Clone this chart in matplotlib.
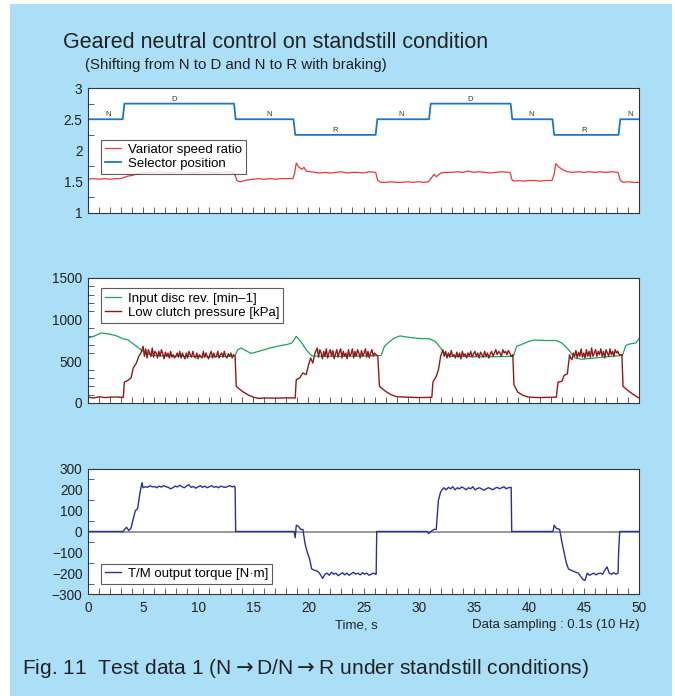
import numpy as np
import matplotlib.pyplot as plt
import matplotlib as mpl
from matplotlib.ticker import MultipleLocator

mpl.rcParams['font.family'] = ['Liberation Sans', 'DejaVu Sans']
mpl.rcParams['font.size'] = 9.5

# ------------------------------------------------------- #
# data (time in s)

# selector position (N = 2.5, D = 2.75, R = 2.25)
sel_t = [0, 3.15, 3.3, 13.25, 13.4, 18.65, 18.8, 26.1, 26.25, 30.95, 31.1, 38.35, 38.5, 42.15, 42.3, 48.15, 48.3, 50]
sel_v = [2.5, 2.5, 2.75, 2.75, 2.5, 2.5, 2.25, 2.25, 2.5, 2.5, 2.75, 2.75, 2.5, 2.5, 2.25, 2.25, 2.5, 2.5]
sel_lbl_t = [1.8, 7.8, 16.4, 22.4, 28.4, 34.7, 40.2, 45.0, 49.2]
sel_lbl = ['N', 'D', 'N', 'R', 'N', 'D', 'N', 'R', 'N']
sel_lbl_y = [2.5, 2.75, 2.5, 2.25, 2.5, 2.75, 2.5, 2.25, 2.5]

# variator speed ratio
var_t = [0, 0.5, 1, 1.5, 2, 2.5, 3, 3.3, 3.6, 4.0, 4.5, 5, 5.5, 6, 6.5, 7, 7.5, 8, 8.5, 9, 9.5, 10, 10.5, 11, 11.5, 12, 12.5, 13, 13.3,
         13.5, 13.8, 14.5, 15, 15.5, 16, 16.5, 17, 17.5, 18, 18.6, 18.75, 18.9, 19.1, 19.4, 19.6, 19.8, 20.2, 20.6, 21, 21.5, 22, 22.5,
         23, 23.5, 24, 24.5, 25, 25.5, 26.1, 26.3, 26.6, 27, 27.5, 28, 28.5, 29, 29.5, 30, 30.5, 30.9, 31.2, 31.4, 31.6, 32.0, 32.5,
         33, 33.5, 34, 34.5, 35, 35.5, 36, 36.5, 37, 37.5, 38.3, 38.5, 38.8, 39, 39.5, 40, 40.5, 41, 41.5, 42.1, 42.3, 42.45, 42.7, 43,
         43.5, 44, 44.5, 45, 45.5, 46, 46.5, 47, 47.5, 48.1, 48.3, 48.6, 49, 49.5, 50]
var_v = [1.54, 1.55, 1.54, 1.55, 1.54, 1.55, 1.55, 1.57, 1.59, 1.60, 1.63, 1.64, 1.65, 1.65, 1.66, 1.65, 1.64, 1.65, 1.66, 1.65, 1.64, 1.65, 1.66, 1.65, 1.64, 1.65, 1.66, 1.65, 1.64,
         1.52, 1.50, 1.53, 1.54, 1.55, 1.54, 1.55, 1.54, 1.55, 1.55, 1.55, 1.64, 1.80, 1.74, 1.70, 1.73, 1.67, 1.66, 1.65, 1.64, 1.65, 1.64, 1.65,
         1.66, 1.64, 1.65, 1.65, 1.64, 1.66, 1.65, 1.52, 1.49, 1.49, 1.50, 1.49, 1.49, 1.50, 1.49, 1.50, 1.49, 1.50, 1.57, 1.62, 1.58, 1.64, 1.65,
         1.65, 1.66, 1.65, 1.67, 1.65, 1.66, 1.65, 1.64, 1.65, 1.66, 1.65, 1.52, 1.51, 1.52, 1.51, 1.52, 1.52, 1.51, 1.52, 1.52, 1.62, 1.79, 1.74, 1.70,
         1.66, 1.65, 1.66, 1.65, 1.66, 1.65, 1.66, 1.65, 1.66, 1.65, 1.52, 1.49, 1.50, 1.49, 1.49]

# input disc rev. [min-1]
rev_t = [0, 0.5, 1.2, 1.8, 2.5, 3.2, 3.6, 4.0, 4.6, 5.2, 5.8, 7, 9, 11, 13.3, 13.6, 13.9, 14.3, 14.8, 15.5,
         16.5, 17.5, 18.0, 18.5, 18.9, 19.3, 19.8, 20.3, 21, 23, 25, 26.6, 26.9, 27.3, 27.8, 28.3, 29, 30, 31, 31.5,
         32.0, 32.5, 33, 35, 37, 38.6, 38.9, 39.3, 40.0, 40.5, 41.5, 42.5, 43.0, 43.6, 44.2, 44.8, 46, 47.5, 48.5, 48.8,
         49.2, 49.7, 50]
rev_v = [780, 800, 840, 830, 810, 770, 760, 720, 660, 600, 570, 565, 560, 555, 560, 640, 660, 630, 595, 620,
         660, 690, 700, 720, 800, 740, 640, 565, 560, 560, 565, 570, 680, 730, 780, 805, 790, 775, 770, 740,
         660, 575, 560, 555, 555, 560, 680, 700, 740, 755, 750, 750, 720, 640, 540, 525, 540, 560, 570, 690,
         710, 720, 770]

# low clutch pressure [kPa] : transitions + noisy plateaus
prs_low1_t = [0, 0.5, 1, 1.5, 2, 2.5, 3.2, 3.3, 3.6, 3.9, 4.1, 4.4, 4.6, 4.8]
prs_low1_v = [70, 60, 75, 65, 70, 72, 68, 250, 270, 300, 420, 480, 560, 600]
prs_plat1 = [680, 560, 650, 540, 640, 600, 560, 660, 550, 620, 600, 540, 620, 560, 640, 590, 530, 610, 560, 600,
             540, 620, 550, 580, 540, 560, 600, 550, 620, 540, 600, 560, 530, 600, 540, 620, 580, 550, 620, 560,
             540, 600, 530, 580, 560, 540, 620, 550, 600, 560, 530, 580, 620, 540, 600, 550, 560, 620, 540, 580,
             600, 550, 620, 560, 540, 590, 560, 600, 540, 580]
prs_low2_t = [13.35, 13.45, 14, 14.5, 15, 15.5, 16, 17, 18, 18.8, 18.9, 19.2, 19.5, 19.8, 20.0, 20.2, 20.4, 20.6]
prs_low2_v = [560, 200, 140, 100, 70, 55, 60, 58, 62, 60, 280, 300, 360, 340, 450, 540, 480, 600]
prs_plat2 = [660, 550, 640, 600, 530, 620, 560, 650, 540, 600, 640, 560, 630, 530, 590, 640, 550, 610, 650, 540,
             620, 560, 600, 530, 640, 560, 590, 650, 540, 620, 560, 640, 600, 540, 630, 560, 600, 650, 550, 620,
             540, 600, 640, 560, 600]
prs_low3_t = [26.3, 26.45, 27, 27.5, 28, 29, 30, 31.2, 31.3, 31.6, 31.8, 32.0, 32.1]
prs_low3_v = [560, 200, 140, 100, 75, 70, 65, 68, 250, 320, 400, 560, 600]
prs_plat3 = [640, 560, 620, 540, 600, 550, 630, 560, 580, 540, 610, 550, 600, 530, 620, 560, 590, 540, 600, 560,
             620, 550, 590, 620, 560, 600, 540, 610, 580, 550, 620, 560, 600, 540, 590, 620, 560, 600, 640, 580,
             620, 600, 560, 640, 600, 620, 580, 630, 600, 560]
prs_low4_t = [38.55, 38.65, 39, 39.5, 40, 41, 42.5, 42.65, 43, 43.2, 43.5, 43.7]
prs_low4_v = [580, 220, 130, 90, 70, 65, 70, 250, 260, 330, 350, 580]
prs_plat4 = [540, 520, 600, 560, 630, 540, 610, 560, 650, 550, 600, 540, 640, 560, 620, 550, 660, 560, 600, 640,
             560, 620, 580, 650, 560, 620, 540, 640, 600, 560, 650, 580, 620, 560, 640, 600, 620, 580]
prs_low5_t = [48.45, 48.55, 49, 49.5, 50]
prs_low5_v = [580, 200, 150, 100, 60]
prs_plat_span = [(5.0, 13.2), (20.8, 26.0), (32.2, 38.4), (43.8, 48.2)]

# T/M output torque [N·m] : transitions + plateaus
trq_a_t = [0, 3.2, 3.3, 3.5, 3.7, 3.9, 4.1, 4.3, 4.5, 4.7, 4.9]
trq_a_v = [0, 0, 10, 20, 5, 15, 60, 100, 110, 180, 235]
trq_plat1 = [210, 215, 212, 220, 214, 216, 210, 218, 213, 220, 215, 212, 205, 210, 218, 214, 222, 215, 210, 218,
             225, 212, 216, 208, 214, 220, 212, 218, 210, 215, 220, 212, 216, 210, 218, 214, 212, 216, 220, 214, 218]
trq_b_t = [13.35, 13.4, 18.7, 18.8, 18.9, 19.1, 19.3, 19.5, 19.7, 19.9, 20.1, 20.3, 20.5, 20.8, 21.0, 21.3]
trq_b_v = [210, 0, 0, -30, 30, 25, 10, 10, -60, -100, -130, -180, -185, -190, -200, -225]
trq_plat2 = [-205, -200, -210, -195, -205, -200, -212, -205, -198, -208, -200, -210, -202, -196, -205, -200, -208,
             -198, -205, -200, -210, -205, -200, -205]
trq_c_t = [26.15, 26.2, 30.8, 30.9, 31.1, 31.4, 31.6, 31.8, 32.0, 32.2]
trq_c_v = [-205, 0, 0, -10, 0, 10, 10, 150, 190, 205]
trq_plat3 = [210, 200, 212, 205, 215, 200, 210, 205, 214, 208, 200, 210, 205, 215, 200, 206, 210, 204, 198, 205,
             210, 206, 200, 208, 212, 205, 210, 215, 205, 210, 212]
trq_d_t = [38.4, 38.45, 42.2, 42.3, 42.5, 42.8, 43.0, 43.2, 43.4, 43.6, 44.0, 44.5, 44.9, 45.1]
trq_d_v = [212, 0, 0, 30, 15, 10, -50, -100, -150, -180, -190, -200, -230, -235]
trq_plat4 = [-200, -210, -205, -200, -208, -202, -200, -205, -185, -170, -200, -205, -198, -205, -200]
trq_e_t = [48.15, 48.25, 50]
trq_e_v = [-100, 0, 0]
trq_plat_span = [(5.0, 13.3), (21.5, 26.1), (32.3, 38.35), (45.3, 48.1)]

# ------------------------------------------------------- #

def join(parts_t, parts_v):
    return np.concatenate(parts_t), np.concatenate(parts_v)

def grid(span, vals):
    # plateau samples spread over the plateau time span
    return np.linspace(span[0], span[1], len(vals))

prs_t, prs_v = join(
    [prs_low1_t, grid(prs_plat_span[0], prs_plat1), prs_low2_t, grid(prs_plat_span[1], prs_plat2),
     prs_low3_t, grid(prs_plat_span[2], prs_plat3), prs_low4_t, grid(prs_plat_span[3], prs_plat4), prs_low5_t],
    [prs_low1_v, prs_plat1, prs_low2_v, prs_plat2, prs_low3_v, prs_plat3, prs_low4_v, prs_plat4, prs_low5_v])

trq_t, trq_v = join(
    [trq_a_t, grid(trq_plat_span[0], trq_plat1), trq_b_t, grid(trq_plat_span[1], trq_plat2),
     trq_c_t, grid(trq_plat_span[2], trq_plat3), trq_d_t, grid(trq_plat_span[3], trq_plat4), trq_e_t],
    [trq_a_v, trq_plat1, trq_b_v, trq_plat2, trq_c_v, trq_plat3, trq_d_v, trq_plat4, trq_e_v])

# ------------------------------------------------------- #

W, H = 675, 696
fig = plt.figure(figsize=(W / 100, H / 100), dpi=100)
fig.patch.set_facecolor('white')

# light blue panel behind everything
bg = fig.add_axes([10 / W, 0, 662 / W, 1 - 4 / H], zorder=-10)
bg.set_facecolor('#abdff8')
bg.set_xticks([])
bg.set_yticks([])
for s in bg.spines.values():
    s.set_visible(False)

txt_col = '#222222'
fig.text(63 / W, 1 - 43 / H, 'Geared neutral control on standstill condition', fontsize=15.5,
         color=txt_col, va='center', ha='left')
fig.text(85 / W, 1 - 65 / H, '(Shifting from N to D and N to R with braking)', fontsize=10.8,
         color=txt_col, va='center', ha='left')
fig.text(22 / W, 1 - 668 / H, r'Fig. 11  Test data 1 (N$\rightarrow$D/N$\rightarrow$R under standstill conditions)',
         fontsize=15.1, color=txt_col, va='center', ha='left')

left, width, hgt = 88 / W, 551 / W, 125 / H
ax1 = fig.add_axes([left, 1 - 213 / H, width, hgt])
ax2 = fig.add_axes([left, 1 - 403 / H, width, hgt])
ax3 = fig.add_axes([left, 1 - 594 / H, width, hgt])

def style(ax, ymin, ymax, ymajor, yminor, xlabels):
    ax.set_facecolor('white')
    ax.set_xlim(0, 50)
    ax.set_ylim(ymin, ymax)
    ax.xaxis.set_major_locator(MultipleLocator(5))
    ax.xaxis.set_minor_locator(MultipleLocator(1))
    ax.yaxis.set_major_locator(MultipleLocator(ymajor))
    ax.yaxis.set_minor_locator(MultipleLocator(yminor))
    ax.tick_params(which='both', direction='in', colors='#444444', labelcolor=txt_col, width=0.6)
    ax.tick_params(which='major', length=4)
    ax.tick_params(which='minor', length=4)
    ax.tick_params(axis='y', which='major', length=0, pad=4)
    ax.tick_params(labelsize=9.8)
    if not xlabels:
        ax.tick_params(axis='x', labelbottom=False)
    for s in ax.spines.values():
        s.set_color('#333333')
        s.set_linewidth(0.8)

def legend_box(ax, **kw):
    leg = ax.legend(frameon=True, fancybox=False, handlelength=1.2, handletextpad=0.5,
                    borderpad=0.3, labelspacing=0.15, fontsize=9.5, **kw)
    leg.get_frame().set_edgecolor('#333333')
    leg.get_frame().set_linewidth(0.8)

# --- panel 1
style(ax1, 1, 3, 0.5, 0.25, False)
ax1.yaxis.set_major_formatter(mpl.ticker.FuncFormatter(lambda v, p: '%g' % v))
ax1.plot(var_t, var_v, color='#e8383d', lw=0.9, label='Variator speed ratio')
ax1.plot(sel_t, sel_v, color='#1a78c8', lw=1.3, label='Selector position')
for t, s, y in zip(sel_lbl_t, sel_lbl, sel_lbl_y):
    ax1.text(t, y + 0.015, s, fontsize=5.5, ha='center', va='bottom', color='#333333')
legend_box(ax1, loc='upper left', bbox_to_anchor=(0.012, 0.64))

# --- panel 2
style(ax2, 0, 1500, 500, 100, False)
ax2.plot(rev_t, rev_v, color='#1aa55a', lw=0.9, label='Input disc rev. [min\u20131]')
ax2.plot(prs_t, prs_v, color='#8b1c1c', lw=1.0, label='Low clutch pressure [kPa]')
legend_box(ax2, loc='upper left', bbox_to_anchor=(0.012, 0.97))

# --- panel 3
style(ax3, -300, 300, 100, 50, True)
ax3.axhline(0, color='#888888', lw=1.2, zorder=1)
ax3.plot(trq_t, trq_v, color='#2b3193', lw=1.0, label='T/M output torque [N\u00b7m]', zorder=2)
legend_box(ax3, loc='lower left', bbox_to_anchor=(0.012, 0.03))
ax3.tick_params(axis='x', which='major', pad=5)

fig.text(356 / W, 1 - 625 / H, 'Time, s', fontsize=9.5, color=txt_col, ha='center', va='center')
fig.text(640 / W, 1 - 625 / H, 'Data sampling : 0.1s (10 Hz)', fontsize=9.5, color=txt_col,
         ha='right', va='center')

fig.savefig('out.png', dpi=100, facecolor=fig.get_facecolor())
